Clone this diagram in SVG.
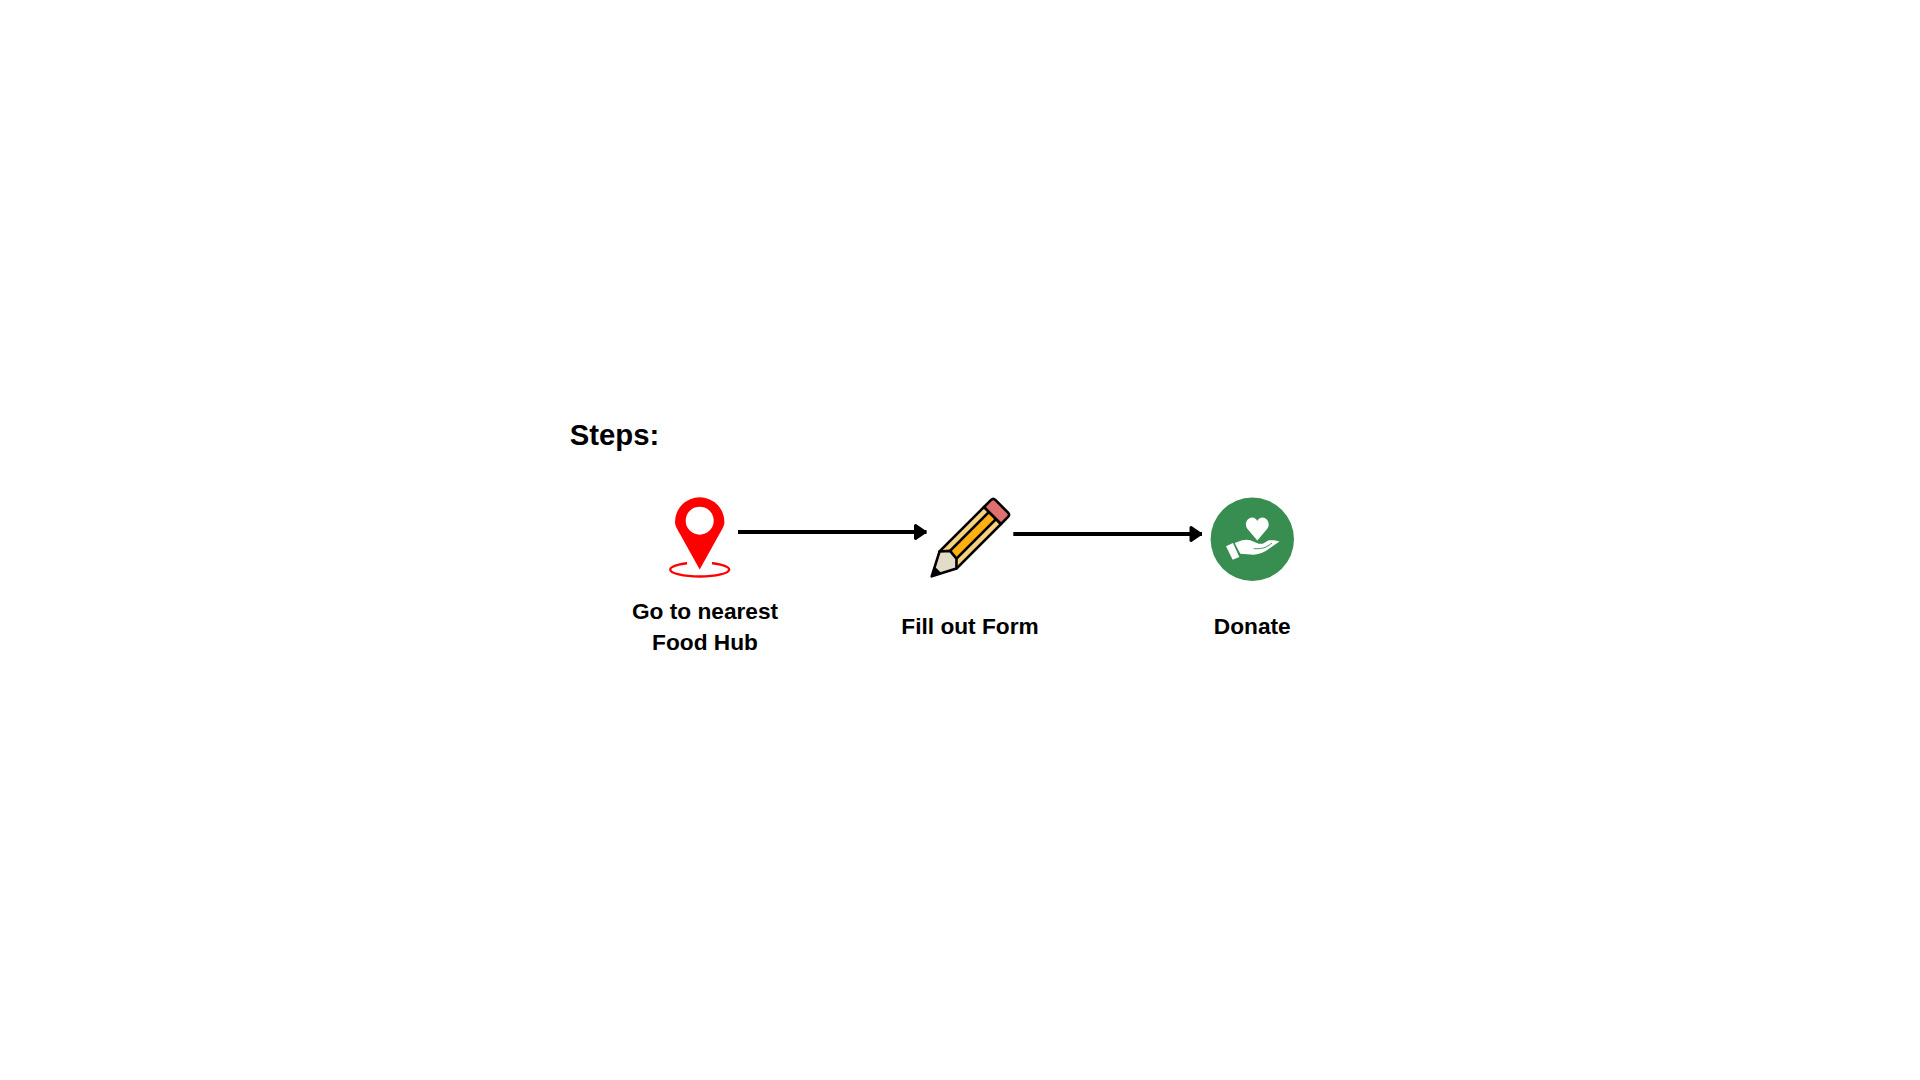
<svg xmlns="http://www.w3.org/2000/svg" width="1920" height="1080" viewBox="0 0 1920 1080">
<style>
text{font-family:"Liberation Sans",Arial,sans-serif;font-weight:700;fill:#000;text-anchor:middle}
.l{font-size:22.7px}
.c{stroke:#000;stroke-width:4;fill:none;marker-end:url(#a)}
.p{stroke:#000;stroke-width:2.6;stroke-linejoin:round}
</style>
<defs>
<marker id="a" markerUnits="userSpaceOnUse" markerWidth="16" markerHeight="20" refX="13" refY="10" orient="auto" viewBox="0 0 16 20">
<path d="M2 3.500L11.500 10L2 16.500Z" fill="#000" stroke="#000" stroke-width="3" stroke-linejoin="round"/>
</marker>
</defs>
<rect width="1920" height="1080" fill="#fff"/>
<text id="title" x="614.500" y="445" style="font-size:29.3px">Steps:</text>
<g id="connectors">
<path class="c" d="M738 532H926.500"/>
<path class="c" d="M1013.300 534H1202"/>
</g>
<g id="node-food-hub">
<ellipse cx="699.700" cy="569.500" rx="29.500" ry="7" fill="none" stroke="#f00" stroke-width="2.300"/>
<path d="M687 557H712V566H687Z" fill="#fff"/>
<path fill-rule="evenodd" fill="#f00" d="M699.700 569.500L680 534C676.500 528 675 525 675 522A24.700 24.700 0 0 1 724.400 522C724.400 525 723 528 719.400 534ZM685.700 520.700A14 14 0 0 0 713.700 520.700A14 14 0 0 0 685.700 520.700Z"/>
<text class="l" x="705" y="618.700">Go to nearest</text>
<text class="l" x="705" y="649.800">Food Hub</text>
</g>
<g id="node-form">
<g transform="translate(931 577) rotate(-45)">
<path class="p" fill="#F7D27C" d="M24 -12H87V12H24Z"/>
<path class="p" fill="#FDB00F" d="M30 -5H87V5H30Z"/>
<path class="p" fill="#E3DCC8" d="M1 0L24 -12L32 -5L31 5L24 12Z"/>
<path d="M0 0L10 -5.500L10 5.500Z" fill="#000"/>
<path class="p" fill="#E07070" d="M87 -12H97Q100 -12 100 -9V9Q100 12 97 12H87Z"/>
</g>
<text class="l" x="970" y="634">Fill out Form</text>
</g>
<g id="node-donate">
<circle cx="1252.300" cy="539.300" r="41.700" fill="#388E50"/>
<path fill="#fff" d="M1257.300 540.500L1248.800 530.500C1246.900 528.300 1245.900 526.500 1245.900 524.500C1245.900 520.700 1248.900 517.600 1252.300 517.600C1254.300 517.600 1256.300 519 1257.300 521C1258.300 519 1260.300 517.600 1262.300 517.600C1265.700 517.600 1268.700 520.700 1268.700 524.500C1268.700 526.500 1267.700 528.300 1265.800 530.500Z"/>
<path fill="#fff" d="M1226 546.300L1233 543L1239.300 557L1232.700 559.700Z"/>
<path fill="#fff" d="M1234.700 543L1242 540.300C1245 539.500 1248 539.500 1250.300 540.300L1258.700 543.700H1262.700L1268.700 540.300C1272 540 1276 540 1279.500 541.500L1265.300 551.300C1262 553 1258 554.500 1253.700 554.700L1240.300 553.700Z"/>
<path fill="none" stroke="#388E50" stroke-width="0.900" d="M1253.700 548.700C1258 549 1263 548.500 1266 547C1268 546 1270 544.500 1272 543"/>
<text class="l" x="1252.300" y="634">Donate</text>
</g>
</svg>
